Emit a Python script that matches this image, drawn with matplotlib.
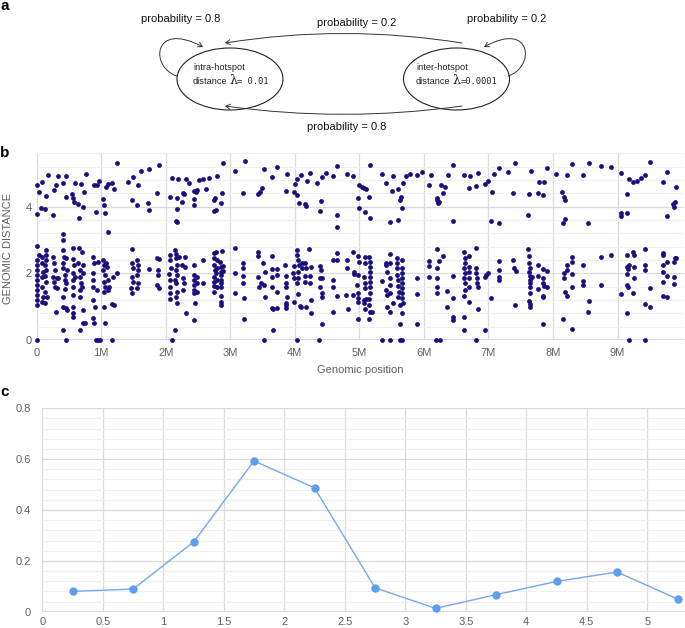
import matplotlib
matplotlib.use("Agg")
import matplotlib.pyplot as plt
from matplotlib.patches import Ellipse, FancyArrowPatch
from matplotlib.path import Path
import numpy as np

plt.rcParams['font.family'] = ['Liberation Sans', 'DejaVu Sans']

# ---------------- data: panel b (genomic position in Mb, genomic distance) -------------
seg_0_2M = [
    (0.00,4.65),(0.04,4.45),(0.08,4.75),(0.07,3.95),(0.00,3.77),(0.14,4.32),(0.13,3.93),(0.18,4.95),(0.25,3.75),(0.27,4.50),
    (0.30,4.65),(0.335,4.93),(0.41,4.70),(0.45,4.92),(0.46,4.30),(0.54,4.38),(0.57,4.25),(0.58,4.15),(0.59,4.72),(0.645,4.07),
    (0.66,3.65),(0.68,4.68),(0.71,3.98),(0.73,4.45),(0.77,4.98),(0.89,4.65),(0.93,4.65),(0.92,3.83),(0.965,4.77),(1.03,4.22),
    (1.04,4.05),(1.06,3.80),(1.07,4.60),(1.11,3.25),(1.11,4.67),(1.16,4.70),(1.20,4.52),(1.24,5.30),(1.42,4.73),(1.47,4.20),
    (1.49,4.90),(1.56,4.05),(1.575,4.65),(1.61,5.07),(1.73,4.10),(1.745,3.90),(1.745,5.13),(1.87,4.42),(1.90,5.26),(2.07,4.28),
    (2.09,4.87),(2.17,4.25),(2.17,3.92),(2.16,3.57),(2.18,3.54),(2.19,4.82),(2.25,4.15),(2.26,4.42),(2.28,4.38),(2.31,4.82),
    (2.365,4.72),(2.43,4.22),(2.43,4.47),
    (0.00,2.82),(0.00,2.40),(0.01,2.25),(0.00,2.10),(0.01,1.95),(0.00,1.80),(0.01,1.65),(0.00,1.50),(0.01,1.35),(0.00,1.20),(0.01,1.05),
    (0.03,2.55),(0.08,2.50),(0.08,2.30),(0.09,2.05),(0.08,1.90),(0.08,1.60),(0.09,1.30),(0.08,1.15),
    (0.14,2.70),(0.15,2.55),(0.14,2.40),(0.13,2.25),(0.14,2.10),(0.13,1.92),(0.14,1.75),(0.13,1.45),(0.13,1.10),(0.165,1.30),
    (0.26,2.48),(0.27,2.30),(0.28,2.10),(0.26,1.90),(0.27,1.75),(0.28,1.60),(0.31,1.85),(0.31,1.55),(0.335,1.85),(0.30,0.83),
    (0.40,3.17),(0.41,3.00),(0.41,2.70),(0.42,2.50),(0.41,2.32),(0.41,2.15),(0.44,1.95),(0.44,1.80),(0.46,1.70),(0.44,1.52),
    (0.41,1.30),(0.41,1.00),(0.45,0.95),(0.475,0.90),(0.41,0.30),(0.475,2.10),(0.46,2.45),
    (0.56,2.75),(0.57,2.42),(0.58,2.25),(0.56,2.00),(0.57,1.80),(0.56,1.60),(0.57,1.35),(0.57,1.00),(0.57,0.80),(0.57,0.70),
    (0.59,1.90),(0.645,2.30),(0.66,2.75),(0.67,2.10),(0.67,1.90),(0.68,1.72),(0.67,1.50),(0.67,1.30),(0.67,0.30),(0.70,2.65),
    (0.71,2.25),(0.72,0.50),(0.75,0.50),(0.72,0.90),(0.70,1.60),(0.72,2.00),
    (0.88,2.50),(0.89,2.30),(0.88,2.00),(0.87,1.80),(0.88,1.60),(0.88,1.20),(0.90,1.00),(0.88,0.65),(0.89,0.50),(0.93,1.50),(0.955,2.35),
    (1.03,2.40),(1.04,2.25),(1.03,2.10),(1.06,1.95),(1.04,1.75),(1.06,1.60),(1.04,1.45),(1.07,2.30),(1.09,2.20),(1.11,1.80),
    (1.125,1.60),(1.11,1.50),(1.04,1.00),(1.06,0.50),(1.16,1.08),(1.20,1.05),(1.25,2.02),(1.19,1.90),
    (1.47,2.72),(1.47,2.30),(1.49,2.15),(1.47,1.90),(1.49,1.75),(1.46,1.55),(1.47,1.40),(1.56,2.40),(1.575,2.25),(1.575,2.10),
    (1.56,1.95),(1.575,1.70),(1.55,1.55),(1.745,2.12),(1.87,2.45),(1.90,2.42),(1.885,2.10),(1.885,1.95),(1.87,1.65),(1.90,1.55),
    (2.07,2.55),(2.07,2.40),(2.08,2.15),(2.055,1.98),(2.07,1.80),(2.07,1.60),(2.07,1.40),(2.07,1.22),(2.14,2.70),(2.16,2.58),
    (2.16,2.45),(2.17,2.25),(2.16,2.10),(2.17,1.95),(2.14,1.80),(2.16,1.70),(2.17,1.45),(2.16,1.30),(2.17,1.10),(2.21,2.50),
    (2.25,2.25),(2.27,1.85),(2.28,1.70),(2.26,1.50),(2.30,2.48),(2.30,2.20),(2.31,0.80),(2.14,0.30),(2.43,2.25),(2.43,1.40),(2.43,0.60),
    (0.00,0),(0.46,0),(0.92,0),(0.955,0),(0.98,0),(1.16,0),(2.09,0),
]

seg_2_5M = [
    (2.44,4.05),(2.47,4.45),(2.49,4.50),(2.52,4.80),(2.58,4.82),(2.63,4.52),(2.675,4.85),(2.75,4.20),(2.76,4.25),(2.74,3.88),
    (2.78,3.90),(2.79,4.92),(2.85,4.12),(2.865,4.40),(2.89,5.30),(3.07,5.08),(3.19,4.40),(3.23,5.37),(3.43,4.37),(3.46,4.45),
    (3.485,4.57),(3.52,5.12),(3.64,4.88),(3.73,5.18),(3.86,4.48),(3.88,4.98),(3.98,4.45),(4.00,4.68),(4.04,4.35),(4.03,4.82),
    (4.07,4.12),(4.09,4.95),(4.16,4.08),(4.17,4.03),(4.19,4.78),(4.24,5.00),(4.35,4.70),(4.39,3.88),(4.40,4.18),(4.415,4.88),
    (4.48,5.02),(4.585,4.92),(4.66,5.22),(4.66,3.75),(4.66,3.40),(4.81,4.97),(4.895,4.92),
    (2.44,1.95),(2.43,1.80),(2.43,1.65),(2.44,1.50),(2.45,1.12),(2.48,1.90),(2.49,1.72),(2.49,1.45),(2.58,2.40),(2.58,1.72),
    (2.74,2.60),(2.75,2.45),(2.74,2.25),(2.76,2.10),(2.75,1.90),(2.74,1.75),(2.75,1.62),(2.74,1.45),(2.78,2.65),(2.79,2.40),
    (2.79,2.15),(2.78,2.00),(2.79,1.80),(2.80,1.60),(2.84,2.35),(2.85,2.20),(2.85,2.05),(2.85,1.95),(2.85,1.80),(2.85,1.70),
    (2.85,1.58),(2.85,1.32),(2.85,1.15),(2.85,1.05),(2.88,2.22),(2.89,2.08),(2.87,2.67),
    (3.07,2.75),(3.07,2.00),(3.07,1.42),(3.19,2.30),(3.19,2.15),(3.20,1.92),(3.20,1.72),(3.21,1.25),(3.21,0.62),
    (3.43,2.65),(3.43,2.52),(3.43,1.90),(3.45,1.60),(3.47,1.72),(3.51,2.30),(3.52,1.65),(3.54,1.30),(3.54,2.05),
    (3.64,2.52),(3.64,2.12),(3.64,1.90),(3.64,1.58),(3.64,0.95),(3.66,0.92),(3.66,0.30),(3.73,0.95),(3.72,2.12),(3.73,1.95),(3.73,1.43),
    (3.85,2.25),(3.86,1.92),(3.87,1.72),(3.86,1.60),(3.87,1.05),(3.88,1.30),(3.86,1.10),(3.86,0.95),(3.97,2.02),(3.98,2.22),
    (3.99,1.85),(3.99,1.15),(4.04,2.70),(4.04,2.55),(4.05,2.40),(4.07,2.25),(4.05,2.05),(4.05,1.85),(4.04,1.72),(4.05,1.38),
    (4.08,1.02),(4.09,0.98),(4.11,2.30),(4.11,2.15),(4.16,2.30),(4.16,1.92),(4.16,1.75),(4.17,1.00),(4.17,2.15),(4.22,2.72),
    (4.23,1.70),(4.23,1.92),(4.245,2.20),(4.245,1.20),(4.245,0.80),
    (4.39,2.22),(4.40,2.10),(4.39,1.85),(4.415,1.85),(4.39,1.60),(4.415,1.40),(4.415,1.30),(4.42,0.48),
    (4.585,2.40),(4.585,1.80),(4.585,1.60),(4.585,0.84),(4.66,2.60),(4.66,2.40),(4.66,1.32),(4.81,2.40),(4.81,2.17),(4.82,0.92),
    (4.80,1.35),(4.895,2.65),(4.91,2.05),(4.91,1.98),(4.895,1.35),
    (3.52,0),(4.04,0),(4.38,0),
]

seg_5_7M = [
    (4.98,4.25),(5.00,4.65),(5.035,4.60),(5.07,4.55),(5.11,4.52),(5.09,3.83),(5.00,3.95),(5.15,4.30),(5.17,5.25),(5.17,3.65),
    (5.35,4.97),(5.42,4.72),(5.48,3.55),(5.50,4.48),(5.515,4.92),(5.60,4.52),(5.60,3.60),(5.63,4.20),(5.64,4.30),(5.655,3.95),
    (5.68,4.72),(5.72,4.92),(5.79,4.97),(5.89,4.94),(5.965,5.03),(6.08,4.65),(6.115,4.96),(6.20,4.25),(6.21,4.20),(6.24,4.15),
    (6.22,4.10),(6.26,4.65),(6.30,4.40),(6.33,4.60),(6.37,4.94),(6.445,5.24),(6.445,3.58),(6.62,4.94),(6.70,4.55),(6.72,4.92),
    (6.81,4.63),(6.84,5.01),(6.95,4.67),(6.99,4.78),(7.05,4.45),(7.085,4.97),(7.04,3.58),(7.16,3.50),(7.16,5.17),(7.31,5.04),
    (7.385,4.42),(7.41,5.32),
    (4.98,2.52),(5.00,2.35),(4.98,1.95),(4.97,1.65),(4.98,1.42),(4.98,1.25),(4.98,1.15),(4.98,0.62),(5.09,2.50),(5.09,2.30),
    (5.07,1.90),(5.09,1.72),(5.09,1.55),(5.07,1.20),(5.07,1.10),(5.09,0.92),(5.10,1.22),(5.15,2.50),(5.16,2.35),(5.17,2.20),
    (5.16,2.05),(5.17,1.88),(5.16,1.75),(5.17,1.60),(5.16,1.40),(5.15,1.22),(5.15,1.05),(5.16,0.85),(5.19,0.85),(5.15,0.62),
    (5.35,1.78),(5.41,2.30),(5.42,2.25),(5.43,2.05),(5.42,1.50),(5.43,1.35),(5.43,1.00),(5.48,2.58),(5.48,2.30),(5.48,1.85),
    (5.48,1.65),(5.48,1.40),(5.48,0.84),(5.515,1.12),(5.58,2.45),(5.58,2.30),(5.59,2.15),(5.59,1.95),(5.60,1.80),(5.60,1.62),
    (5.62,1.45),(5.60,1.28),(5.63,1.05),(5.655,2.40),(5.655,2.15),(5.655,2.00),(5.655,1.85),(5.655,1.70),(5.655,1.55),(5.655,1.40),
    (5.655,1.25),(5.67,1.10),(5.655,0.82),(5.63,0.48),
    (5.89,1.85),(5.89,1.38),(5.89,0.48),(6.08,2.38),(6.08,2.22),(6.08,1.90),(6.21,2.72),(6.21,2.15),(6.21,1.85),(6.21,1.60),
    (6.21,1.42),(6.24,2.38),(6.30,2.52),(6.36,1.48),(6.36,1.00),(6.445,1.92),(6.445,1.27),(6.455,0.70),(6.455,0.60),
    (6.62,2.65),(6.64,2.45),(6.64,2.30),(6.62,2.15),(6.64,2.00),(6.62,1.85),(6.64,1.70),(6.64,1.50),(6.62,1.33),(6.62,0.70),
    (6.62,0.30),(6.70,2.52),(6.70,2.20),(6.70,2.05),(6.70,1.87),(6.70,1.60),(6.70,1.15),(6.81,2.75),(6.81,2.15),(6.81,2.00),
    (6.82,1.85),(6.82,1.72),(6.84,1.60),(6.84,0.92),(6.95,1.90),(6.96,1.95),(7.00,2.02),(6.95,0.30),(7.04,1.27),(7.16,2.37),
    (7.16,2.10),(7.16,1.88),(7.16,1.80),(7.385,2.40),(7.395,2.15),(7.41,1.05),
    (5.345,0),(5.48,0),(5.63,0),(5.655,0),(6.19,0),(6.25,0),(6.81,0),
]

seg_7_10M = [
    (7.66,5.06),(7.63,4.38),(7.77,4.40),(7.79,4.75),(7.84,4.34),(7.86,4.75),(7.91,5.16),(7.62,3.75),(8.045,4.99),(8.14,4.45),
    (8.17,4.28),(8.185,4.20),(8.16,3.52),(8.185,3.63),(8.22,4.96),(8.29,5.27),(8.47,4.94),(8.55,3.50),(8.56,5.32),(8.74,5.22),
    (8.90,5.18),(9.05,5.02),(9.05,3.80),(9.06,3.72),(9.15,3.80),(9.15,4.37),(9.18,4.83),(9.24,4.74),(9.305,4.78),(9.36,4.85),
    (9.43,4.96),(9.51,5.35),(9.71,4.73),(9.77,5.03),(9.76,3.73),(9.86,4.07),(9.88,3.98),(9.89,4.15),(9.905,4.60),
    (7.425,2.08),(7.62,2.72),(7.63,2.52),(7.63,2.30),(7.64,2.15),(7.63,2.05),(7.65,1.92),(7.64,1.80),(7.65,1.70),(7.64,1.60),
    (7.65,1.40),(7.63,1.18),(7.65,1.08),(7.64,0.98),(7.67,1.90),(7.77,2.25),(7.77,1.92),(7.77,1.52),(7.84,2.12),(7.85,1.85),
    (7.84,1.70),(7.86,1.62),(7.84,1.32),(7.85,1.28),(7.91,2.08),(7.91,1.58),(7.85,0.49),
    (8.16,0.62),(8.17,2.00),(8.17,1.85),(8.185,1.45),(8.21,2.25),(8.22,2.10),(8.22,1.33),(8.29,2.50),(8.29,2.35),(8.29,1.98),
    (8.29,1.60),(8.29,0.32),(8.47,2.25),(8.47,1.78),(8.47,1.65),(8.56,1.17),(8.55,0.84),(8.74,2.48),(8.74,1.65),(8.90,2.56),
    (9.05,1.38),(9.15,2.55),(9.15,2.20),(9.15,1.98),(9.165,2.12),(9.18,2.25),(9.15,1.65),(9.165,1.58),(9.15,0.80),(9.24,2.65),
    (9.25,2.55),(9.25,2.20),(9.25,1.85),(9.24,1.40),(9.42,2.72),(9.42,2.25),(9.42,2.10),(9.43,1.08),(9.51,1.55),(9.51,1.00),
    (9.71,2.60),(9.71,2.55),(9.71,2.25),(9.71,2.05),(9.71,1.73),(9.71,1.33),(9.76,2.33),(9.77,1.92),(9.76,1.30),(9.88,2.34),
    (9.89,2.45),(9.87,1.90),(9.88,1.67),(9.905,2.45),
    (9.18,0),(9.43,0),
]

b_xticks = [0, 1, 2, 3, 4, 5, 6, 7, 8, 9]
b_xticklabels = ['0', '1M', '2M', '3M', '4M', '5M', '6M', '7M', '8M', '9M']
b_yticks = [0, 2, 4]

# ---------------- data: panel c -------------
c_x = [0.25, 0.75, 1.25, 1.75, 2.25, 2.75, 3.25, 3.75, 4.25, 4.75, 5.25]
c_y = [0.080, 0.089, 0.274, 0.593, 0.487, 0.094, 0.013, 0.067, 0.119, 0.156, 0.050]
c_xticks = [0, 0.5, 1, 1.5, 2, 2.5, 3, 3.5, 4, 4.5, 5]
c_xticklabels = ['0', '0.5', '1', '1.5', '2', '2.5', '3', '3.5', '4', '4.5', '5']
c_yticks = [0, 0.2, 0.4, 0.6, 0.8]
c_yticklabels = ['0', '0.2', '0.4', '0.6', '0.8']

W, H = 685, 628
fig = plt.figure(figsize=(W / 100, H / 100), dpi=100)

def rect(x0, x1, y_top, y_bot):
    return [x0 / W, 1 - y_bot / H, (x1 - x0) / W, (y_bot - y_top) / H]

TICK = '#5f5f5f'
GRID_MAJ = '#dadada'
GRID_MIN = '#efefef'
AXLINE = '#c3d1ef'

# ---------------- panel a (diagram, in pixel coordinates) -------------
ax_a = fig.add_axes([0, 0, 1, 1], zorder=0)
ax_a.set_xlim(0, W)
ax_a.set_ylim(H, 0)
ax_a.axis('off')

for cx in (230, 456.5):
    ax_a.add_patch(Ellipse((cx, 79), 106, 62, fill=False, ec='#222222', lw=0.8))

txt_kw = dict(fontsize=6.7, color='#222222', va='center', ha='left')
ax_a.text(193, 67, 'intra-hotspot', **txt_kw)
ax_a.text(193, 81, 'distance', **txt_kw)
ax_a.text(229, 81, 'λ', fontsize=9, family='DejaVu Serif', color='#222222', va='center', ha='left')
ax_a.text(237.5, 82, '= 0.01', fontsize=6.3, family='DejaVu Sans Mono', color='#222222', va='center', ha='left')
ax_a.text(416, 67, 'inter-hotspot', **txt_kw)
ax_a.text(416, 81, 'distance', **txt_kw)
ax_a.text(452.5, 81, 'λ', fontsize=9, family='DejaVu Serif', color='#222222', va='center', ha='left')
ax_a.text(461, 82, '=0.0001', fontsize=6.3, family='DejaVu Sans Mono', color='#222222', va='center', ha='left')

pkw = dict(fontsize=8, color='#111111', va='center', ha='left')
ax_a.text(141, 19, 'probability = 0.8', **pkw)
ax_a.text(317, 23, 'probability = 0.2', **pkw)
ax_a.text(467, 19, 'probability = 0.2', **pkw)
ax_a.text(307, 127, 'probability = 0.8', **pkw)

akw = dict(arrowstyle='->,head_length=3,head_width=1.8', color='#333333', lw=0.7,
           shrinkA=0, shrinkB=0, mutation_scale=1)
ax_a.add_patch(FancyArrowPatch((462, 43), (225, 43), connectionstyle='arc3,rad=0.08', **akw))
ax_a.add_patch(FancyArrowPatch((462, 106), (225, 106), connectionstyle='arc3,rad=-0.07', **akw))
loopL = Path([(177, 76), (150, 68), (152, 20), (203, 47)], [Path.MOVETO, Path.CURVE4, Path.CURVE4, Path.CURVE4])
loopR = Path([(508, 76), (535, 68), (533, 20), (484, 47)], [Path.MOVETO, Path.CURVE4, Path.CURVE4, Path.CURVE4])
ax_a.add_patch(FancyArrowPatch(path=loopL, **akw))
ax_a.add_patch(FancyArrowPatch(path=loopR, **akw))

for lbl, (px, py) in zip(['a', 'b', 'c'], [(5, 6), (5, 153), (5, 392)]):
    ax_a.text(px, py, lbl, fontsize=11, fontweight='bold', color='black', va='center', ha='center')

# ---------------- panel b -------------
ax_b = fig.add_axes(rect(36.7, 684, 153.5, 340), zorder=1)
ax_b.patch.set_alpha(0)
ax_b.set_xlim(0, 10.03)
ax_b.set_ylim(0, 5.6)
for seg in (seg_0_2M, seg_2_5M, seg_5_7M, seg_7_10M):
    xs = [p for p, d in seg]
    ys = [d for p, d in seg]
    ax_b.scatter(xs, ys, s=12, color='#1b0f80', linewidths=0, clip_on=False, zorder=3)
ax_b.set_xticks(b_xticks)
ax_b.set_xticklabels(b_xticklabels)
ax_b.set_yticks(b_yticks)
ax_b.set_yticks(np.arange(0, 5.61, 0.4), minor=True)
ax_b.grid(which='major', color=GRID_MAJ, lw=0.9)
ax_b.grid(which='minor', axis='y', color=GRID_MIN, lw=0.8)
ax_b.set_axisbelow(True)
for s in ax_b.spines.values():
    s.set_visible(False)
ax_b.axhline(0, color=AXLINE, lw=1.2, zorder=2)
ax_b.tick_params(which='both', length=0, labelsize=8, colors=TICK)
ax_b.tick_params(axis='x', pad=5.5)
ax_b.tick_params(axis='y', pad=3.5)
ax_a.text(360, 370, 'Genomic position', fontsize=8, color=TICK, ha='center', va='center')
ax_a.text(8, 248, 'GENOMIC DISTANCE', fontsize=8, color=TICK, ha='center', va='center', rotation=90)

# ---------------- panel c -------------
ax_c = fig.add_axes(rect(42.3, 684.8, 408.3, 611.7), zorder=1)
ax_c.patch.set_alpha(0)
ax_c.set_xlim(0, 5.31)
ax_c.set_ylim(0, 0.8)
ax_c.plot(c_x, c_y, color='#74a7ee', lw=1.0, marker='o', ms=5, mfc='#5f9ded', mec='#5f9ded',
          clip_on=False, zorder=3)
ax_c.set_xticks(c_xticks)
ax_c.set_xticklabels(c_xticklabels)
ax_c.set_yticks(c_yticks)
ax_c.set_yticklabels(c_yticklabels)
ax_c.set_yticks(np.arange(0, 0.801, 0.04), minor=True)
ax_c.grid(which='major', color=GRID_MAJ, lw=0.9)
ax_c.grid(which='minor', axis='y', color=GRID_MIN, lw=0.8)
ax_c.set_axisbelow(True)
for s in ax_c.spines.values():
    s.set_visible(False)
ax_c.axhline(0, color=AXLINE, lw=1.2, zorder=2)
ax_c.tick_params(which='both', length=0, labelsize=8, colors=TICK)
ax_c.tick_params(axis='x', pad=3.5)
ax_c.tick_params(axis='y', pad=8)

fig.savefig('out.png', dpi=100)
